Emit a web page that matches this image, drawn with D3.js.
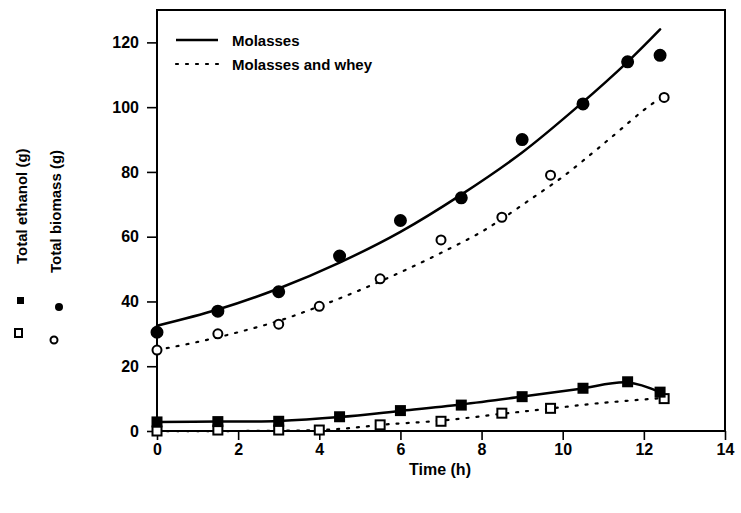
<!DOCTYPE html>
<meta charset="utf-8">
<head>
<script src="https://d3js.org/d3.v7.min.js"></script>
<style>
  body { margin: 0; background: #fff; }
  text { font-family: "Liberation Sans", Arial, sans-serif; font-weight: bold; fill: #000; }
</style>
</head>
<body>
<svg id="chart" width="741" height="513"></svg>
<script>

// measured points
var biomassT = [0, 1.5, 3, 4.5, 6, 7.5, 9, 10.5, 11.6, 12.4];
var biomassMolasses = [30.5, 37, 43, 54, 65, 72, 90, 101, 114, 116];
var ethanolMolasses = [2.8, 2.9, 3, 4.4, 6.3, 8, 10.6, 13.2, 15.2, 12];

var wheyT = [0, 1.5, 3, 4, 5.5, 7, 8.5, 9.7, 12.5];
var biomassWhey = [25, 30, 33, 38.5, 47, 59, 66, 79, 103];
var ethanolWhey = [0, 0.3, 0.3, 0.3, 1.9, 3, 5.5, 7, 10];

// fitted curves
var fitT = [0, 1.5, 3, 4.5, 6, 7.5, 9, 10.4, 11.6, 12.4];
var fitBiomassMolasses = [32.5, 37.5, 44, 52, 61.5, 73, 86, 100.5, 114, 124];
var fitEthanolMolasses = [2.8, 2.9, 3.1, 4.3, 6.2, 8.2, 10.6, 13, 15, 12];
var fitWheyT = [0, 1, 2, 3, 4, 5, 6, 7, 8, 8.5, 9.2, 10, 10.7, 11.2, 12.2, 12.5];
var fitBiomassWhey = [25, 27.5, 30.5, 34, 38.5, 43.5, 49, 55, 61.5, 65.5, 71.5, 78.5, 85.5, 90.7, 101, 103];
var fitEthanolT = [0, 4, 5, 5.5, 7, 8.5, 9.6, 10.9, 12.5];
var fitEthanolWhey = [0, 0.3, 1.2, 1.9, 3.2, 5.3, 6.8, 8.6, 10.2];

var xTicks = [0, 2, 4, 6, 8, 10, 12, 14];
var yTicks = [0, 20, 40, 60, 80, 100, 120];

var svg = d3.select("#chart");
var plotL = 157, plotT = 10, plotR = 725, plotB = 431;

var x = d3.scaleLinear().domain([0, 14]).range([plotL, plotR]);
var y = d3.scaleLinear().domain([0, 130]).range([plotB, plotT]);

// frame
svg.append("rect")
  .attr("x", plotL).attr("y", plotT)
  .attr("width", plotR - plotL).attr("height", plotB - plotT)
  .attr("fill", "none").attr("stroke", "#000").attr("stroke-width", 2);

// axes
var xAxis = svg.append("g")
  .attr("transform", "translate(0," + plotB + ")")
  .call(d3.axisBottom(x).tickValues(xTicks).tickSize(9).tickPadding(4).tickFormat(d3.format("d")));
var yAxis = svg.append("g")
  .attr("transform", "translate(" + plotL + ",0)")
  .call(d3.axisLeft(y).tickValues(yTicks).tickSize(10).tickPadding(8).tickFormat(d3.format("d")));

[xAxis, yAxis].forEach(function(g) {
  g.select(".domain").remove();
  g.selectAll(".tick line").attr("stroke", "#000").attr("stroke-width", 1.6);
  g.selectAll("text").style("font-size", "16px").style("font-weight", "bold")
    .style("font-family", "'Liberation Sans', Arial, sans-serif");
});

// curves
var line = d3.line().x(function(d) { return x(d[0]); }).y(function(d) { return y(d[1]); }).curve(d3.curveCatmullRom.alpha(0.5));
function drawCurve(ts, vs, dashed) {
  svg.append("path")
    .attr("d", line(ts.map(function(t, i) { return [t, vs[i]]; })))
    .attr("fill", "none")
    .attr("stroke", "#000")
    .attr("stroke-width", dashed ? 2.2 : 2.5)
    .attr("stroke-dasharray", dashed ? "2,8" : null)
    .attr("stroke-linecap", "round");
}
drawCurve(fitT, fitBiomassMolasses, false);
drawCurve(fitT, fitEthanolMolasses, false);
drawCurve(fitWheyT, fitBiomassWhey, true);
drawCurve(fitEthanolT, fitEthanolWhey, true);

// markers
function circles(ts, vs, filled) {
  svg.append("g").selectAll("circle")
    .data(ts.map(function(t, i) { return [t, vs[i]]; }))
    .enter().append("circle")
    .attr("cx", function(d) { return x(d[0]); })
    .attr("cy", function(d) { return y(d[1]); })
    .attr("r", filled ? 5.5 : 4.5)
    .attr("fill", filled ? "#000" : "#fff")
    .attr("stroke", "#000").attr("stroke-width", 2);
}
function squares(ts, vs, filled) {
  svg.append("g").selectAll("rect")
    .data(ts.map(function(t, i) { return [t, vs[i]]; }))
    .enter().append("rect")
    .attr("x", function(d) { return x(d[0]) - 4.5; })
    .attr("y", function(d) { return y(d[1]) - 4.5; })
    .attr("width", 9).attr("height", 9)
    .attr("fill", filled ? "#000" : "#fff")
    .attr("stroke", "#000").attr("stroke-width", 2);
}
circles(wheyT, biomassWhey, false);
squares(wheyT, ethanolWhey, false);
circles(biomassT, biomassMolasses, true);
squares(biomassT, ethanolMolasses, true);

// legend
svg.append("line").attr("x1", 176).attr("x2", 218).attr("y1", 40).attr("y2", 40)
  .attr("stroke", "#000").attr("stroke-width", 2.5);
svg.append("line").attr("x1", 176).attr("x2", 220).attr("y1", 64).attr("y2", 64)
  .attr("stroke", "#000").attr("stroke-width", 2.2).attr("stroke-dasharray", "2,8").attr("stroke-linecap", "round");
svg.append("text").attr("x", 232).attr("y", 46).style("font-size", "15px").text("Molasses");
svg.append("text").attr("x", 232).attr("y", 70).style("font-size", "15px").text("Molasses and whey");

// axis titles
svg.append("text").attr("x", 440).attr("y", 475).attr("text-anchor", "middle")
  .style("font-size", "16px").text("Time (h)");
svg.append("text").attr("transform", "translate(27,264) rotate(-90)")
  .style("font-size", "15px").text("Total ethanol (g)");
svg.append("text").attr("transform", "translate(61,273) rotate(-90)")
  .style("font-size", "15px").text("Total biomass (g)");

// symbol keys beside the axis titles
svg.append("rect").attr("x", 17).attr("y", 297).attr("width", 7).attr("height", 7).attr("fill", "#000");
svg.append("rect").attr("x", 15).attr("y", 329).attr("width", 7).attr("height", 8)
  .attr("fill", "#fff").attr("stroke", "#000").attr("stroke-width", 2);
svg.append("circle").attr("cx", 59).attr("cy", 307).attr("r", 4).attr("fill", "#000");
svg.append("circle").attr("cx", 54).attr("cy", 340).attr("r", 3.5)
  .attr("fill", "#fff").attr("stroke", "#000").attr("stroke-width", 2);

</script>
</body>
